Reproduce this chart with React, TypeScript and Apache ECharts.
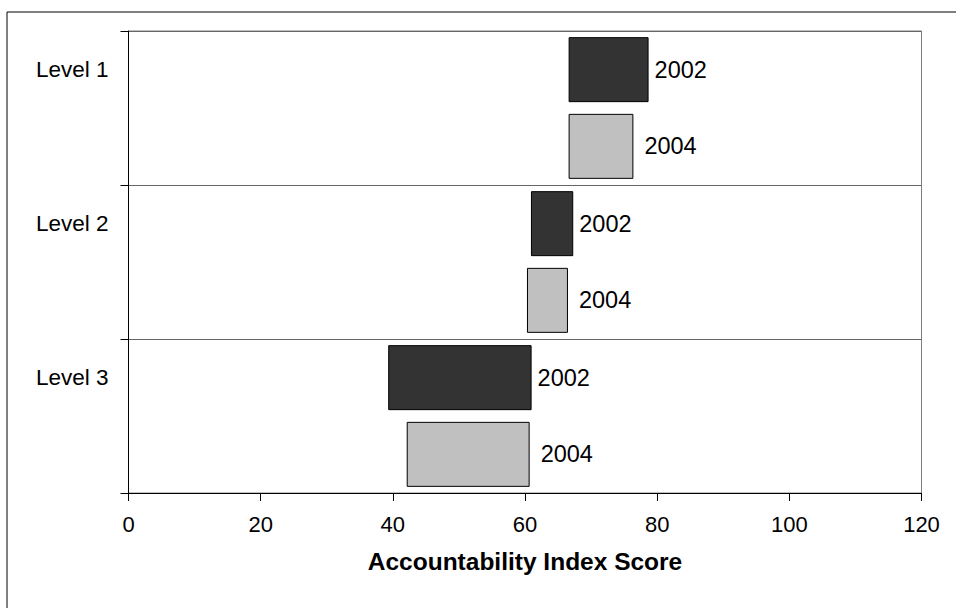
import React, { useEffect, useRef } from "react";
import * as echarts from "echarts";

const categories = ["Level 1", "Level 2", "Level 3"];
const start2002 = [66.6, 60.9, 39.3];
const end2002 = [78.7, 67.3, 61.0];
const start2004 = [66.6, 60.3, 42.1];
const end2004 = [76.4, 66.5, 60.7];
const xTicks = [0, 20, 40, 60, 80, 100, 120];
const xTitle = "Accountability Index Score";

const FONT = 'Arial, "Liberation Sans", sans-serif';

export default function App() {
  const ref = useRef<HTMLDivElement>(null);
  useEffect(() => {
    if (!ref.current) return;
    const chart = echarts.init(ref.current, null, { renderer: "svg" });
    const range2002 = end2002.map((e, i) => +(e - start2002[i]).toFixed(2));
    const range2004 = end2004.map((e, i) => +(e - start2004[i]).toFixed(2));
    const barCommon = { barWidth: 65, barGap: "18%" };
    chart.setOption({
      animation: false,
      backgroundColor: "#fff",
      textStyle: { fontFamily: FONT },
      graphic: [
        {
          type: "rect",
          shape: { x: 7, y: 12, width: 1000, height: 1000 },
          style: { fill: "none", stroke: "#000", lineWidth: 1 },
          silent: true,
        },
      ],
      grid: {
        left: 128.5,
        right: 34.5,
        top: 31,
        bottom: 115,
        show: true,
        borderColor: "#808080",
        borderWidth: 1,
        backgroundColor: "transparent",
      },
      xAxis: {
        type: "value",
        min: xTicks[0],
        max: xTicks[xTicks.length - 1],
        interval: 20,
        name: xTitle,
        nameLocation: "middle",
        nameGap: 56,
        nameTextStyle: { fontSize: 24.5, fontWeight: "bold", color: "#000", fontFamily: FONT },
        axisLine: { show: true, lineStyle: { color: "#000", width: 1 } },
        axisTick: { show: true, length: 8, lineStyle: { color: "#000" } },
        axisLabel: { fontSize: 22, color: "#000", margin: 20, fontFamily: FONT },
        splitLine: { show: false },
      },
      yAxis: {
        type: "category",
        data: categories,
        inverse: true,
        axisLine: { show: true, lineStyle: { color: "#000", width: 1 } },
        axisTick: { show: true, length: 8, lineStyle: { color: "#000" } },
        axisLabel: {
          fontSize: 22.5,
          color: "#000",
          margin: 20,
          fontFamily: FONT,
          lineHeight: 77,
          formatter: (v: string) => v + "\n ",
        },
        splitLine: { show: true, lineStyle: { color: "#666", width: 1 } },
      },
      series: [
        {
          name: "base2002",
          type: "bar",
          stack: "y2002",
          ...barCommon,
          itemStyle: { color: "transparent", borderWidth: 0 },
          emphasis: { disabled: true },
          data: start2002,
        },
        {
          name: "2002",
          type: "bar",
          stack: "y2002",
          ...barCommon,
          itemStyle: { color: "#333333", borderColor: "#000", borderWidth: 1 },
          label: {
            show: true,
            position: "right",
            distance: 6,
            formatter: "2002",
            fontSize: 23.5,
            color: "#000",
            fontFamily: FONT,
          },
          data: range2002,
        },
        {
          name: "base2004",
          type: "bar",
          stack: "y2004",
          ...barCommon,
          itemStyle: { color: "transparent", borderWidth: 0 },
          emphasis: { disabled: true },
          data: start2004,
        },
        {
          name: "2004",
          type: "bar",
          stack: "y2004",
          ...barCommon,
          itemStyle: { color: "#C0C0C0", borderColor: "#000", borderWidth: 1 },
          label: {
            show: true,
            position: "right",
            distance: 11,
            formatter: "2004",
            fontSize: 23.5,
            color: "#000",
            fontFamily: FONT,
          },
          data: range2004,
        },
      ],
    });
    return () => chart.dispose();
  }, []);
  return (
    <div
      ref={ref}
      style={{ position: "fixed", left: 0, top: 0, width: 956, height: 608 }}
    />
  );
}
